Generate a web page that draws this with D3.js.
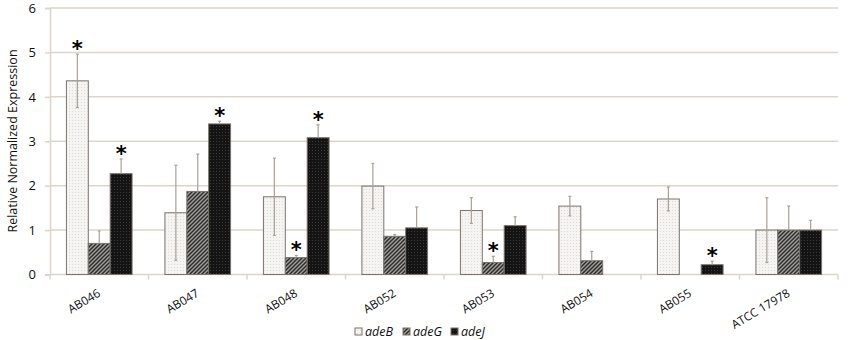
<!DOCTYPE html>
<html><head><meta charset="utf-8">
<script src="https://cdn.jsdelivr.net/npm/d3@7"></script>
<style>body{margin:0;background:#fff}svg{display:block}</style>
</head><body>
<svg id="c" width="856" height="340"></svg>
<script>
const categories = ["AB046","AB047","AB048","AB052","AB053","AB054","AB055","ATCC 17978"];
const seriesNames = ["adeB","adeG","adeJ"];
const adeB = [4.36,1.39,1.75,1.99,1.44,1.54,1.70,1.00];
const adeG = [0.70,1.87,0.38,0.86,0.27,0.31,0,1.00];
const adeJ = [2.27,3.39,3.08,1.05,1.10,0,0.22,1.00];
const errB = [0.60,1.07,0.87,0.51,0.29,0.22,0.27,0.73];
const errG = [0.28,0.84,0.05,0.04,0.14,0.21,0,0.54];
const errJ = [0.33,0.06,0.29,0.47,0.20,0,0.08,0.22];
const stars = [[0,0],[0,2],[1,2],[2,1],[2,2],[4,1],[6,2]]; // [category, series]
const yTicks = [0,1,2,3,4,5,6];

(function(){
const values = [adeB, adeG, adeJ];
const errs = [errB, errG, errJ];

const svg = d3.select("#c");
const mLeft = 50, mRight = 838, mTop = 8, mBottom = 274.5;

const defs = svg.append("defs");
const pB = defs.append("pattern").attr("id","pB").attr("patternUnits","userSpaceOnUse").attr("width",3).attr("height",3);
pB.append("rect").attr("width",3).attr("height",3).attr("fill","#f5f4f2");
pB.append("rect").attr("width",1).attr("height",1).attr("fill","#dedbd6");
const pG = defs.append("pattern").attr("id","pG").attr("patternUnits","userSpaceOnUse").attr("width",4).attr("height",4);
pG.append("rect").attr("width",4).attr("height",4).attr("fill","#a3a19e");
pG.append("path").attr("d","M-1,1 L1,-1 M0,4 L4,0 M3,5 L5,3").attr("stroke","#2e2c2a").attr("stroke-width",1.5);
const pJ = defs.append("pattern").attr("id","pJ").attr("patternUnits","userSpaceOnUse").attr("width",3).attr("height",3);
pJ.append("rect").attr("width",3).attr("height",3).attr("fill","#141414");
pJ.append("rect").attr("width",1).attr("height",1).attr("fill","#3a3a3a");
const fills = ["url(#pB)","url(#pG)","url(#pJ)"];

const x0 = d3.scaleBand().domain(categories).range([mLeft, mRight]).paddingInner(0).paddingOuter(0);
const bwd = x0.bandwidth();
const x1 = d3.scaleBand().domain(seriesNames).range([bwd*0.75/4.5, bwd - bwd*0.75/4.5]);
const y = d3.scaleLinear().domain([0,6]).range([mBottom, mTop]);

svg.append("g").selectAll("line").data(yTicks.filter(d=>d>0)).join("line")
  .attr("x1",mLeft).attr("x2",mRight).attr("y1",d=>y(d)).attr("y2",d=>y(d))
  .attr("stroke","#ddd5c9").attr("stroke-width",1.5);

const yAxis = d3.axisLeft(y).tickValues(yTicks).tickSize(5).tickPadding(9).tickFormat(d3.format("d"));
const ya = svg.append("g").attr("transform",`translate(${mLeft},0)`).call(yAxis);
ya.select(".domain").attr("stroke","#ddd5c9").attr("stroke-width",1.5);
ya.selectAll(".tick line").attr("stroke","#ddd5c9").attr("stroke-width",1.5);
ya.selectAll("text").attr("font-family","Open Sans, sans-serif").attr("font-size",13).attr("fill","#111");

const xa = svg.append("g").attr("transform",`translate(0,${mBottom})`);
xa.append("line").attr("x1",mLeft).attr("x2",mRight).attr("stroke","#ddd5c9").attr("stroke-width",1.5);
xa.selectAll("line.t").data(d3.range(categories.length+1)).join("line").attr("class","t")
  .attr("x1",i=>mLeft + i*x0.step()).attr("x2",i=>mLeft + i*x0.step()).attr("y1",0).attr("y2",5)
  .attr("stroke","#ddd5c9").attr("stroke-width",1.5);
xa.selectAll("text").data(categories).join("text")
  .attr("transform",d=>`translate(${x0(d)+bwd/2+2},${21}) rotate(-31)`)
  .attr("text-anchor","end").attr("font-family","Open Sans, sans-serif").attr("font-size",11.8).attr("fill","#111")
  .text(d=>d);

const g = svg.append("g");
seriesNames.forEach((s, si) => {
  g.append("g").selectAll("rect").data(categories.map((c,i)=>({c,v:values[si][i]})).filter(d=>d.v>0)).join("rect")
    .attr("x",d=>x0(d.c)+x1(s)).attr("width",x1.bandwidth())
    .attr("y",d=>y(d.v)).attr("height",d=>y(0)-y(d.v))
    .attr("fill",fills[si]).attr("stroke","#7b736c").attr("stroke-width",1);
});

seriesNames.forEach((s, si) => {
  const data = categories.map((c,i)=>({c,v:values[si][i],e:errs[si][i]})).filter(d=>d.v>0 && d.e>0);
  const eg = g.append("g").attr("stroke","#aaa196").attr("stroke-width",1.2);
  data.forEach(d => {
    const cx = x0(d.c)+x1(s)+x1.bandwidth()/2;
    const lo = si===0 ? d.v - d.e : d.v;
    eg.append("line").attr("x1",cx).attr("x2",cx).attr("y1",y(d.v+d.e)).attr("y2",y(lo));
    eg.append("line").attr("x1",cx-1.5).attr("x2",cx+1.5).attr("y1",y(d.v+d.e)).attr("y2",y(d.v+d.e));
    if (si===0) eg.append("line").attr("x1",cx-1.5).attr("x2",cx+1.5).attr("y1",y(lo)).attr("y2",y(lo));
  });
});

g.append("g").selectAll("text").data(stars).join("text")
  .attr("x",d=>x0(categories[d[0]])+x1(seriesNames[d[1]])+x1.bandwidth()/2)
  .attr("y",d=>y(values[d[1]][d[0]]+errs[d[1]][d[0]]) + 2)
  .attr("text-anchor","middle").attr("font-family","DejaVu Sans, sans-serif").attr("font-weight","bold")
  .attr("font-size",21).attr("fill","#000")
  .text("*");

svg.append("text").attr("transform",`translate(17,${141}) rotate(-90)`)
  .attr("text-anchor","middle").attr("font-family","Open Sans, sans-serif").attr("font-size",12.5).attr("fill","#111")
  .text("Relative Normalized Expression");

const legX = [355, 403, 451];
const lg = svg.append("g");
seriesNames.forEach((s,i)=>{
  lg.append("rect").attr("x",legX[i]).attr("y",328).attr("width",7).attr("height",7)
    .attr("fill",fills[i]).attr("stroke","#7b736c").attr("stroke-width",1);
  lg.append("text").attr("x",legX[i]+10).attr("y",336).attr("font-family","Open Sans, sans-serif")
    .attr("font-style","italic").attr("font-size",12.5).attr("fill","#111").text(s);
});
})();
</script>
</body></html>
